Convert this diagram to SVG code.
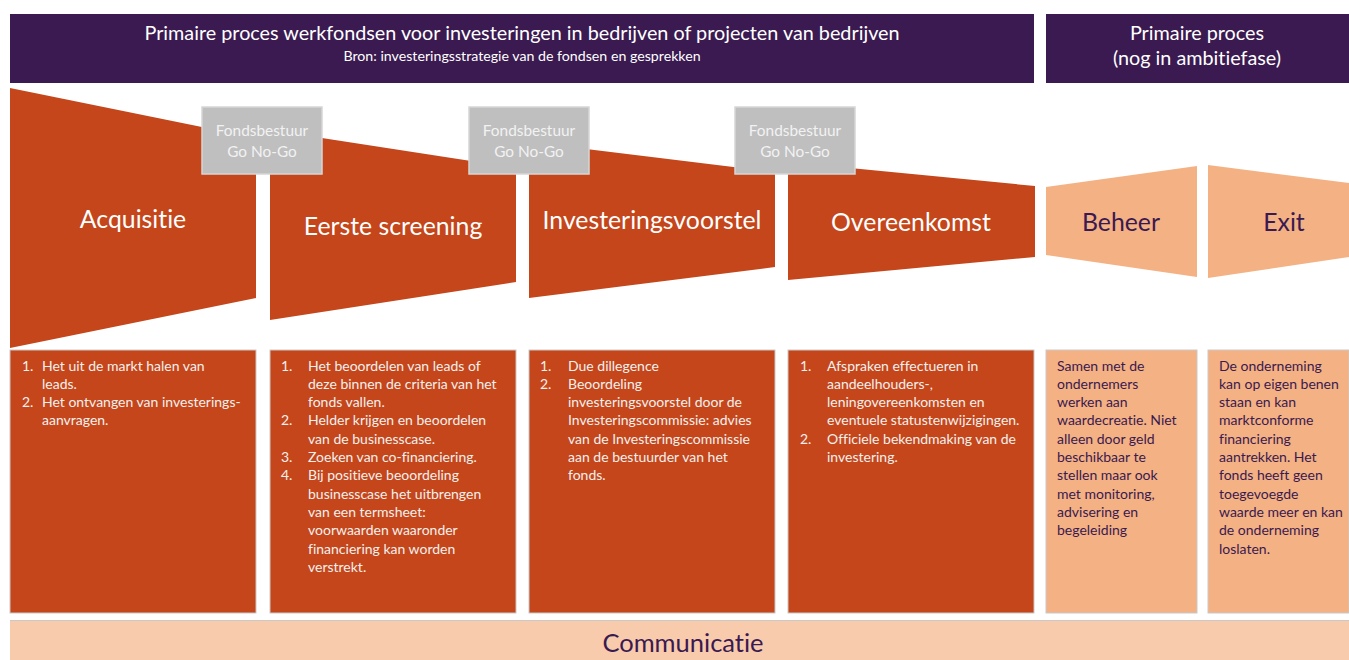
<svg xmlns="http://www.w3.org/2000/svg" width="1349" height="660" viewBox="0 0 1349 660">
<style>
.hdr{fill:#3a1a50}
.seg{fill:#c4461a}
.segl{fill:#f4b183}
.box{fill:#c4461a;stroke:#c9c9c9;stroke-width:1}
.boxl{fill:#f4b183;stroke:#c9c9c9;stroke-width:1}
.gate{fill:#bfbfbf;stroke:#d6d6d6;stroke-width:1.5}
text{font-family:Lato,"Liberation Sans",sans-serif;font-variant-ligatures:none}
.ht{fill:#ffffff;font-size:19.8px}
.hs{fill:#ffffff;font-size:14.2px}
.st{fill:#ffffff;font-size:24.8px}
.sd{fill:#3a1a50;font-size:24.8px}
.gt{fill:#f2f2f2;font-size:15.4px}
.bt{fill:#f4f0ee;font-size:14px}
.bd{fill:#3a1a50;font-size:14px}
.cm{fill:#3a1a50;font-size:25.5px}
</style>
<rect width="1349" height="660" fill="#ffffff"/>
<g id="header-main">
<rect class="hdr" x="10" y="14" width="1024" height="69"/>
<text class="ht" x="522" y="40" text-anchor="middle">Primaire proces werkfondsen voor investeringen in bedrijven of projecten van bedrijven</text>
<text class="hs" x="522" y="61" text-anchor="middle">Bron: investeringsstrategie van de fondsen en gesprekken</text>
</g>
<g id="header-ambitie">
<rect class="hdr" x="1046" y="14" width="303" height="69"/>
<text class="ht" x="1197" y="40" text-anchor="middle">Primaire proces</text>
<text class="ht" x="1197" y="65" text-anchor="middle">(nog in ambitiefase)</text>
</g>
<g id="acquisitie">
<polygon class="seg" points="10,88 256,138 256,298 10,348"/>
<text class="st" x="133" y="228" text-anchor="middle">Acquisitie</text>
</g>
<g id="eerste-screening">
<polygon class="seg" points="270,130 516,168 516,282 270,320"/>
<text class="st" x="393" y="235" text-anchor="middle">Eerste screening</text>
</g>
<g id="investeringsvoorstel">
<polygon class="seg" points="529,142 775,172 775,267 529,298"/>
<text class="st" x="652" y="229" text-anchor="middle">Investeringsvoorstel</text>
</g>
<g id="overeenkomst">
<polygon class="seg" points="788,162 1035,186 1035,257 788,280"/>
<text class="st" x="911" y="231" text-anchor="middle">Overeenkomst</text>
</g>
<g id="beheer">
<polygon class="segl" points="1046,187 1197,166 1197,277 1046,255"/>
<text class="sd" x="1121" y="231" text-anchor="middle">Beheer</text>
</g>
<g id="exit">
<polygon class="segl" points="1208,165 1349,183 1349,257 1208,278"/>
<text class="sd" x="1284" y="231" text-anchor="middle">Exit</text>
</g>
<g id="gate-1">
<rect class="gate" x="202" y="107" width="120" height="67"/>
<text class="gt" x="262" y="135.5" text-anchor="middle">Fondsbestuur</text>
<text class="gt" x="262" y="156.5" text-anchor="middle">Go No-Go</text>
</g>
<g id="gate-2">
<rect class="gate" x="469" y="107" width="120" height="67"/>
<text class="gt" x="529" y="135.5" text-anchor="middle">Fondsbestuur</text>
<text class="gt" x="529" y="156.5" text-anchor="middle">Go No-Go</text>
</g>
<g id="gate-3">
<rect class="gate" x="735" y="107" width="120" height="67"/>
<text class="gt" x="795" y="135.5" text-anchor="middle">Fondsbestuur</text>
<text class="gt" x="795" y="156.5" text-anchor="middle">Go No-Go</text>
</g>
<g id="connectors"></g>
<g id="box-acquisitie">
<rect class="box" x="10" y="350" width="246" height="263"/>
<text class="bt" x="22" y="370.5">1.</text>
<text class="bt" x="42" y="370.5">Het uit de markt halen van</text>
<text class="bt" x="42" y="388.8">leads.</text>
<text class="bt" x="22" y="407.1">2.</text>
<text class="bt" x="42" y="407.1">Het ontvangen van investerings-</text>
<text class="bt" x="42" y="425.4">aanvragen.</text>
</g>
<g id="box-screening">
<rect class="box" x="270" y="350" width="246" height="263"/>
<text class="bt" x="281" y="370.5">1.</text>
<text class="bt" x="308" y="370.5">Het beoordelen van leads of</text>
<text class="bt" x="308" y="388.8">deze binnen de criteria van het</text>
<text class="bt" x="308" y="407.1">fonds vallen.</text>
<text class="bt" x="281" y="425.4">2.</text>
<text class="bt" x="308" y="425.4">Helder krijgen en beoordelen</text>
<text class="bt" x="308" y="443.7">van de businesscase.</text>
<text class="bt" x="281" y="462">3.</text>
<text class="bt" x="308" y="462">Zoeken van co-financiering.</text>
<text class="bt" x="281" y="480.3">4.</text>
<text class="bt" x="308" y="480.3">Bij positieve beoordeling</text>
<text class="bt" x="308" y="498.6">businesscase het uitbrengen</text>
<text class="bt" x="308" y="516.9">van een termsheet:</text>
<text class="bt" x="308" y="535.2">voorwaarden waaronder</text>
<text class="bt" x="308" y="553.5">financiering kan worden</text>
<text class="bt" x="308" y="571.8">verstrekt.</text>
</g>
<g id="box-voorstel">
<rect class="box" x="529" y="350" width="246" height="263"/>
<text class="bt" x="540" y="370.5">1.</text>
<text class="bt" x="568" y="370.5">Due dillegence</text>
<text class="bt" x="540" y="388.8">2.</text>
<text class="bt" x="568" y="388.8">Beoordeling</text>
<text class="bt" x="568" y="407.1">investeringsvoorstel door de</text>
<text class="bt" x="568" y="425.4">Investeringscommissie: advies</text>
<text class="bt" x="568" y="443.7">van de Investeringscommissie</text>
<text class="bt" x="568" y="462">aan de bestuurder van het</text>
<text class="bt" x="568" y="480.3">fonds.</text>
</g>
<g id="box-overeenkomst">
<rect class="box" x="788" y="350" width="246" height="263"/>
<text class="bt" x="800" y="370.5">1.</text>
<text class="bt" x="827" y="370.5">Afspraken effectueren in</text>
<text class="bt" x="827" y="388.8">aandeelhouders-,</text>
<text class="bt" x="827" y="407.1">leningovereenkomsten en</text>
<text class="bt" x="827" y="425.4">eventuele statustenwijzigingen.</text>
<text class="bt" x="800" y="443.7">2.</text>
<text class="bt" x="827" y="443.7">Officiele bekendmaking van de</text>
<text class="bt" x="827" y="462">investering.</text>
</g>
<g id="box-beheer">
<rect class="boxl" x="1046" y="350" width="151" height="263"/>
<text class="bd" x="1057" y="370.5">Samen met de</text>
<text class="bd" x="1057" y="388.8">ondernemers</text>
<text class="bd" x="1057" y="407.1">werken aan</text>
<text class="bd" x="1057" y="425.4">waardecreatie. Niet</text>
<text class="bd" x="1057" y="443.7">alleen door geld</text>
<text class="bd" x="1057" y="462">beschikbaar te</text>
<text class="bd" x="1057" y="480.3">stellen maar ook</text>
<text class="bd" x="1057" y="498.6">met monitoring,</text>
<text class="bd" x="1057" y="516.9">advisering en</text>
<text class="bd" x="1057" y="535.2">begeleiding</text>
</g>
<g id="box-exit">
<rect class="boxl" x="1208" y="350" width="141" height="263"/>
<text class="bd" x="1219" y="370.5">De onderneming</text>
<text class="bd" x="1219" y="388.8">kan op eigen benen</text>
<text class="bd" x="1219" y="407.1">staan en kan</text>
<text class="bd" x="1219" y="425.4">marktconforme</text>
<text class="bd" x="1219" y="443.7">financiering</text>
<text class="bd" x="1219" y="462">aantrekken. Het</text>
<text class="bd" x="1219" y="480.3">fonds heeft geen</text>
<text class="bd" x="1219" y="498.6">toegevoegde</text>
<text class="bd" x="1219" y="516.9">waarde meer en kan</text>
<text class="bd" x="1219" y="535.2">de onderneming</text>
<text class="bd" x="1219" y="553.5">loslaten.</text>
</g>
<g id="communicatie">
<rect x="10" y="620" width="1339" height="40" fill="#f8cbad"/>
<line x1="10" y1="620.5" x2="1349" y2="620.5" stroke="#c9c9c9" stroke-width="1"/>
<text class="cm" x="683" y="652" text-anchor="middle">Communicatie</text>
</g>
</svg>
